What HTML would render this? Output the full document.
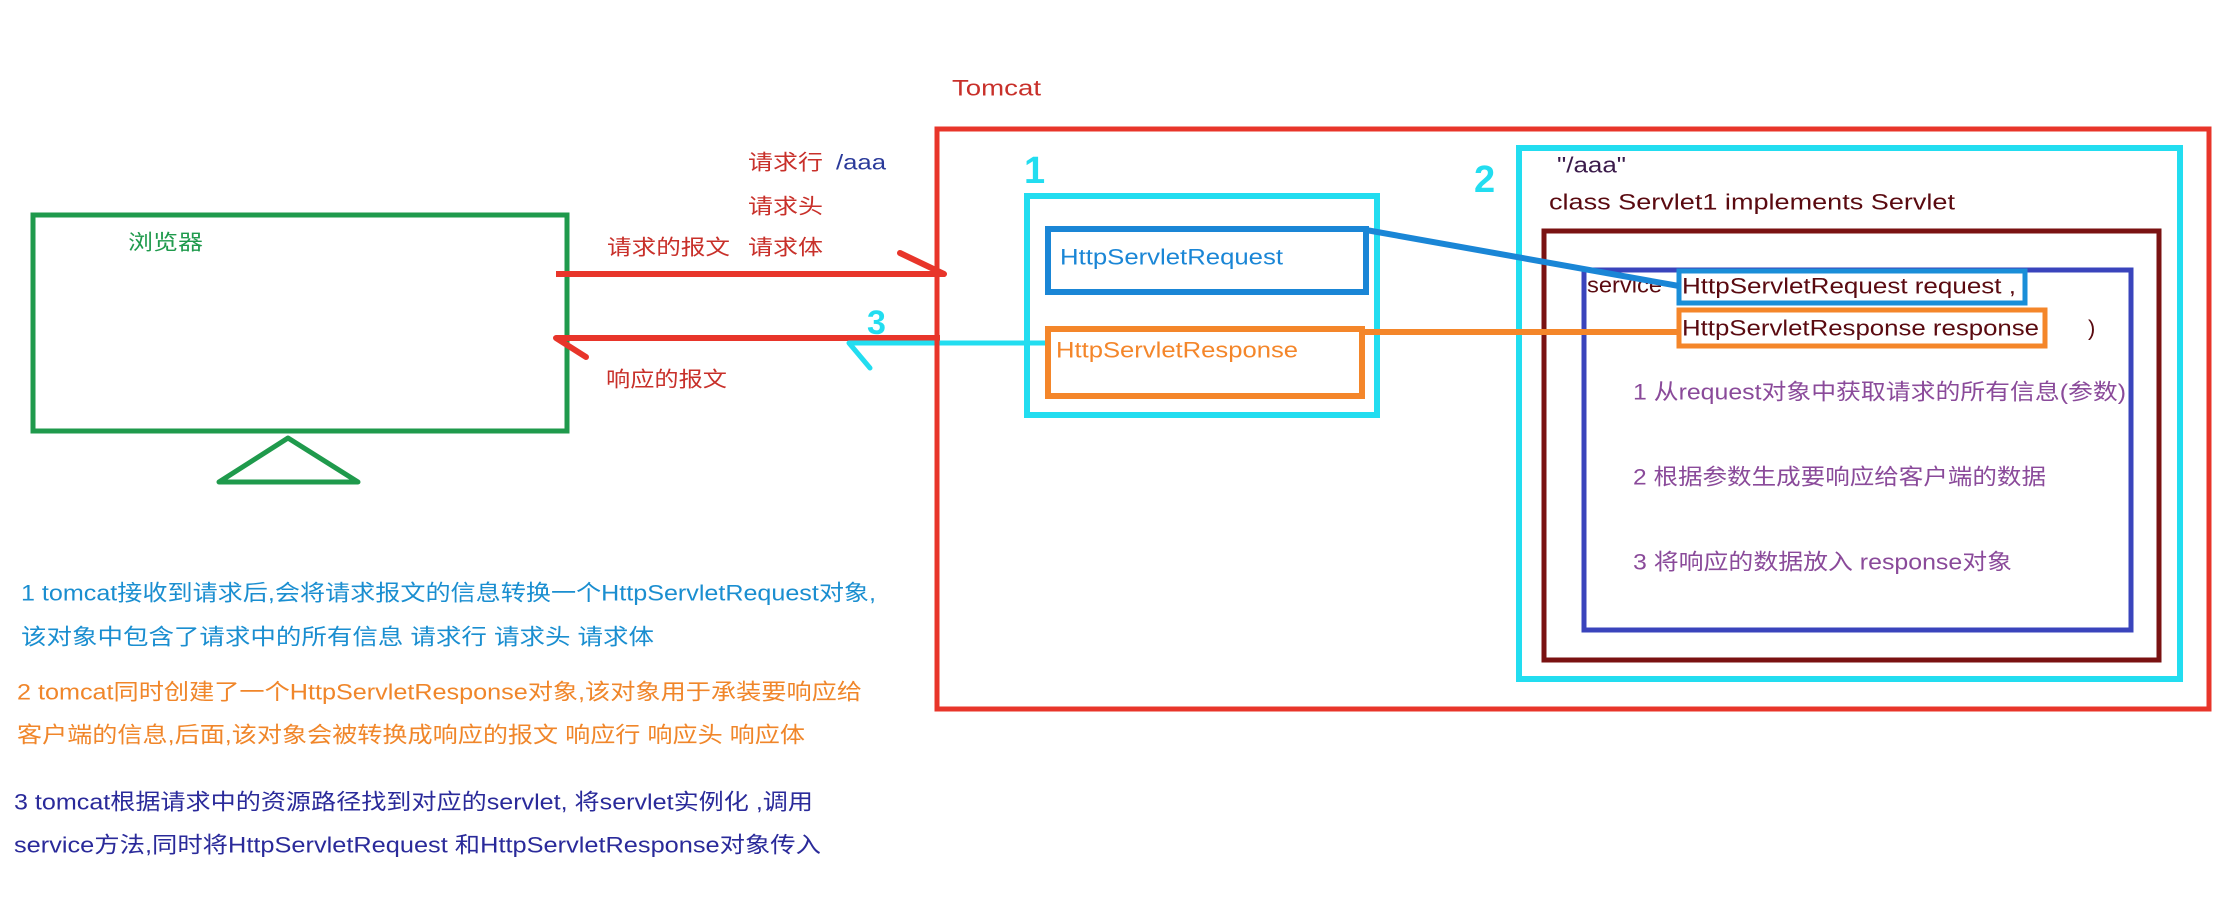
<!DOCTYPE html>
<html><head><meta charset="utf-8"><style>
html,body{margin:0;padding:0;background:#fff;}
svg{display:block;}
text{font-family:"Liberation Sans","Noto Sans CJK SC",sans-serif;dominant-baseline:central;}
</style></head><body>
<svg width="2221" height="924" viewBox="0 0 2221 924" xmlns="http://www.w3.org/2000/svg">
<!-- browser -->
<rect x="33" y="215" width="534" height="216" fill="none" stroke="#1f9a4c" stroke-width="5"/>
<polygon points="288,438 219,482 358,482" fill="none" stroke="#1f9a4c" stroke-width="5" stroke-linejoin="round"/>
<text x="128" y="243" font-size="21" fill="#1f9a4c" textLength="75" lengthAdjust="spacingAndGlyphs">浏览器</text>

<!-- labels -->
<text x="748" y="163" font-size="21" fill="#c8302a" textLength="75" lengthAdjust="spacingAndGlyphs">请求行</text>
<text x="836" y="163" font-size="21" fill="#2a3a9a" textLength="50" lengthAdjust="spacingAndGlyphs">/aaa</text>
<text x="748" y="207" font-size="21" fill="#c8302a" textLength="75" lengthAdjust="spacingAndGlyphs">请求头</text>
<text x="748" y="248" font-size="21" fill="#c8302a" textLength="75" lengthAdjust="spacingAndGlyphs">请求体</text>
<text x="607" y="248" font-size="21" fill="#c8302a" textLength="123" lengthAdjust="spacingAndGlyphs">请求的报文</text>
<text x="606" y="380" font-size="21" fill="#c8302a" textLength="121" lengthAdjust="spacingAndGlyphs">响应的报文</text>

<!-- arrows -->
<line x1="556" y1="274" x2="944" y2="274" stroke="#e8352a" stroke-width="6"/>
<line x1="900" y1="253" x2="944" y2="274" stroke="#e8352a" stroke-width="6" stroke-linecap="round"/>
<line x1="556" y1="338" x2="940" y2="338" stroke="#e8352a" stroke-width="6"/>
<line x1="556" y1="338" x2="586" y2="357" stroke="#e8352a" stroke-width="6" stroke-linecap="round"/>
<line x1="849" y1="343" x2="1046" y2="343" stroke="#22ddf0" stroke-width="5"/>
<line x1="849" y1="343" x2="870" y2="368" stroke="#22ddf0" stroke-width="5" stroke-linecap="round"/>
<text x="867" y="323" font-size="34" font-weight="bold" fill="#22ddf0">3</text>

<!-- tomcat -->
<text x="952" y="88" font-size="22" fill="#c8302a" textLength="89" lengthAdjust="spacingAndGlyphs">Tomcat</text>
<rect x="937" y="129" width="1272" height="580" fill="none" stroke="#e8352a" stroke-width="5"/>

<!-- box 1 -->
<text x="1024" y="171" font-size="38" font-weight="bold" fill="#22ddf0">1</text>
<rect x="1027" y="196" width="350" height="219" fill="none" stroke="#22ddf0" stroke-width="6"/>
<rect x="1048" y="229" width="318" height="63" fill="none" stroke="#1a86d6" stroke-width="6"/>
<text x="1060" y="257" font-size="22" fill="#1a86d6" textLength="223" lengthAdjust="spacingAndGlyphs">HttpServletRequest</text>
<rect x="1048" y="329" width="314" height="67" fill="none" stroke="#f4862a" stroke-width="6"/>
<text x="1056" y="350" font-size="22" fill="#f4862a" textLength="242" lengthAdjust="spacingAndGlyphs">HttpServletResponse</text>

<!-- box 2 -->
<text x="1474" y="180" font-size="38" font-weight="bold" fill="#22ddf0">2</text>
<rect x="1519" y="148" width="661" height="531" fill="none" stroke="#22ddf0" stroke-width="6"/>
<text x="1557" y="165" font-size="22" fill="#3a1a4a" textLength="69" lengthAdjust="spacingAndGlyphs">"/aaa"</text>
<text x="1549" y="202" font-size="22" fill="#5a0a10" textLength="406" lengthAdjust="spacingAndGlyphs">class Servlet1    implements Servlet</text>
<rect x="1544" y="231" width="615" height="429" fill="none" stroke="#7a1212" stroke-width="5"/>
<rect x="1584" y="270" width="547" height="360" fill="none" stroke="#3a44bc" stroke-width="5"/>
<text x="1587" y="285" font-size="22" fill="#5a0a10" textLength="75" lengthAdjust="spacingAndGlyphs">service</text>
<rect x="1679" y="271" width="346" height="32" fill="#fff" stroke="#1a8ed8" stroke-width="5"/>
<text x="1682" y="286" font-size="22" fill="#5a0a10" textLength="334" lengthAdjust="spacingAndGlyphs">HttpServletRequest request ,</text>
<rect x="1679" y="310" width="366" height="36" fill="#fff" stroke="#f4862a" stroke-width="5"/>
<text x="1682" y="328" font-size="22" fill="#5a0a10" textLength="357" lengthAdjust="spacingAndGlyphs">HttpServletResponse response</text>
<text x="2088" y="328" font-size="22" fill="#5a0a10">)</text>
<text x="1633" y="392" font-size="22" fill="#8a4a9a" textLength="493" lengthAdjust="spacingAndGlyphs">1 从request对象中获取请求的所有信息(参数)</text>
<text x="1633" y="477" font-size="22" fill="#8a4a9a" textLength="413" lengthAdjust="spacingAndGlyphs">2 根据参数生成要响应给客户端的数据</text>
<text x="1633" y="562" font-size="22" fill="#8a4a9a" textLength="379" lengthAdjust="spacingAndGlyphs">3 将响应的数据放入 response对象</text>

<!-- connectors -->
<line x1="1366" y1="230" x2="1679" y2="286" stroke="#1a86d6" stroke-width="6"/>
<line x1="1362" y1="332" x2="1679" y2="332" stroke="#f4862a" stroke-width="6"/>

<!-- bottom notes -->
<text x="21" y="593" font-size="22" fill="#1a8ed0" textLength="855" lengthAdjust="spacingAndGlyphs">1 tomcat接收到请求后,会将请求报文的信息转换一个HttpServletRequest对象,</text>
<text x="21" y="637" font-size="22" fill="#1a8ed0" textLength="633" lengthAdjust="spacingAndGlyphs">该对象中包含了请求中的所有信息     请求行 请求头 请求体</text>
<text x="17" y="692" font-size="22" fill="#f0862a" textLength="845" lengthAdjust="spacingAndGlyphs">2 tomcat同时创建了一个HttpServletResponse对象,该对象用于承装要响应给</text>
<text x="17" y="735" font-size="22" fill="#f0862a" textLength="788" lengthAdjust="spacingAndGlyphs">客户端的信息,后面,该对象会被转换成响应的报文  响应行  响应头 响应体</text>
<text x="14" y="802" font-size="22" fill="#2a2a9a" textLength="799" lengthAdjust="spacingAndGlyphs">3 tomcat根据请求中的资源路径找到对应的servlet, 将servlet实例化 ,调用</text>
<text x="14" y="845" font-size="22" fill="#2a2a9a" textLength="807" lengthAdjust="spacingAndGlyphs">service方法,同时将HttpServletRequest 和HttpServletResponse对象传入</text>
</svg>
</body></html>
